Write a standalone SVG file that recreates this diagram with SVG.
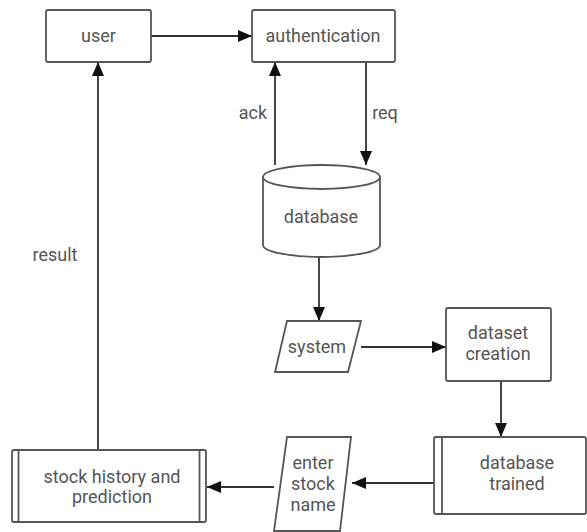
<svg xmlns="http://www.w3.org/2000/svg" width="587" height="532" viewBox="0 0 587 532">
<defs>
<marker id="arr" markerUnits="userSpaceOnUse" markerWidth="14" markerHeight="12" refX="14" refY="6" orient="auto">
<path d="M0,0 L14,6 L0,12 z" fill="#111"/>
</marker>
<style>
.s{fill:#fff;stroke:#555;stroke-width:1.8}
.t{font-family:Roboto,"Liberation Sans",Arial,sans-serif;font-size:18px;fill:#555;text-anchor:middle}
.c{stroke:#333;stroke-width:1.8;fill:none;marker-end:url(#arr)}
</style>
</defs>
<rect width="587" height="532" fill="#fff"/>
<g id="connectors">
<line class="c" x1="151" y1="36" x2="252" y2="36"/>
<line class="c" x1="275" y1="165" x2="275" y2="62"/>
<line class="c" x1="366" y1="62" x2="366" y2="165"/>
<line class="c" x1="319" y1="257" x2="319" y2="321"/>
<line class="c" x1="361" y1="347" x2="446" y2="347"/>
<line class="c" x1="501" y1="381" x2="501" y2="437"/>
<line class="c" x1="434" y1="483" x2="352" y2="483"/>
<line class="c" x1="274" y1="487" x2="207" y2="487"/>
<line class="c" x1="98" y1="450" x2="98" y2="62"/>
<text class="t" x="253" y="119">ack</text>
<text class="t" x="385" y="119">req</text>
<text class="t" x="55" y="261">result</text>
</g>
<g id="user">
<rect class="s" x="46" y="10" width="105" height="52" rx="2"/>
<text class="t" x="98.5" y="42">user</text>
</g>
<g id="authentication">
<rect class="s" x="252" y="10" width="143" height="52" rx="2"/>
<text class="t" x="323" y="42">authentication</text>
</g>
<g id="database">
<path class="s" d="M263,177 L263,245 A58.5,12 0 0 0 380,245 L380,177 A58.5,12 0 0 0 263,177 A58.5,12 0 0 0 380,177"/>
<text class="t" x="321" y="223">database</text>
</g>
<g id="system">
<polygon class="s" points="287,321 361,321 348,372 275,372"/>
<text class="t" x="317" y="353">system</text>
</g>
<g id="dataset">
<rect class="s" x="446" y="308" width="105" height="73" rx="2"/>
<text class="t" x="498" y="339">dataset</text>
<text class="t" x="498" y="360">creation</text>
</g>
<g id="trained">
<rect class="s" x="434" y="437" width="152" height="77" rx="2"/>
<line class="s" x1="442" y1="437" x2="442" y2="514"/>
<text class="t" x="517" y="469">database</text>
<text class="t" x="517" y="490">trained</text>
</g>
<g id="enter">
<polygon class="s" points="287,437 351,437 340,531 274,531"/>
<text class="t" x="313" y="469">enter</text>
<text class="t" x="313" y="490">stock</text>
<text class="t" x="313" y="511">name</text>
</g>
<g id="stock">
<rect class="s" x="12" y="450" width="194" height="72" rx="2"/>
<line class="s" x1="18.5" y1="450" x2="18.5" y2="522"/>
<line class="s" x1="199.5" y1="450" x2="199.5" y2="522"/>
<text class="t" x="112" y="483">stock history and</text>
<text class="t" x="112" y="503">prediction</text>
</g>
</svg>
